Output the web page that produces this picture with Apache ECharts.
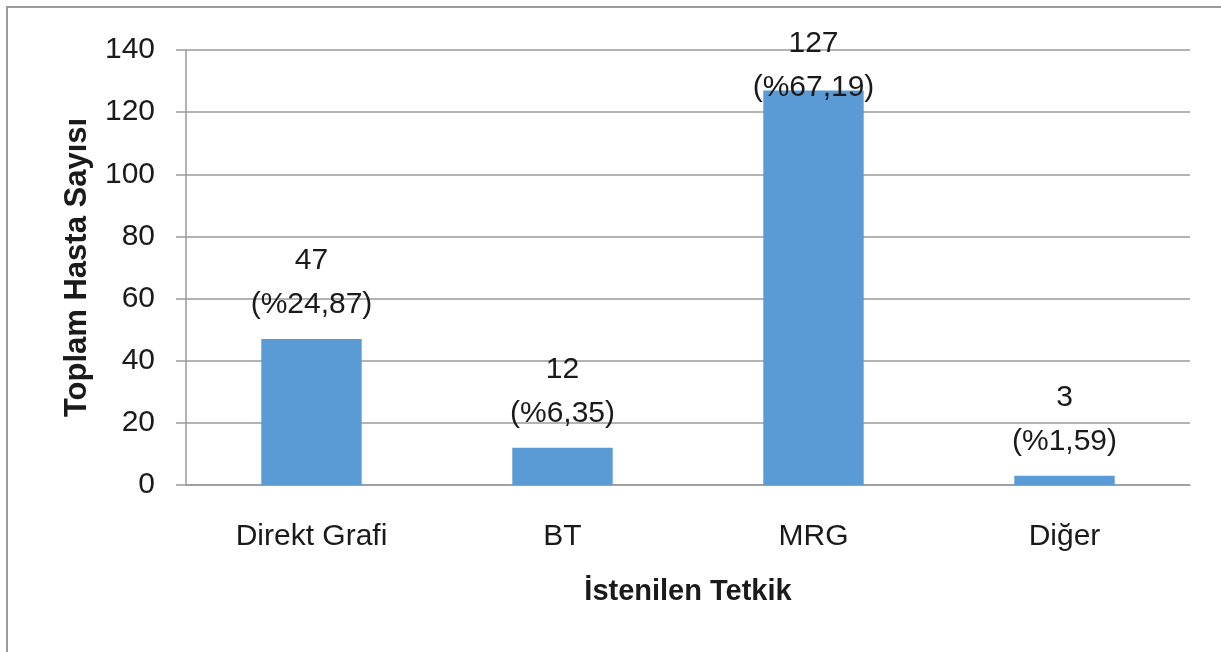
<!DOCTYPE html>
<html>
<head>
<meta charset="utf-8">
<script src="https://cdn.jsdelivr.net/npm/echarts@6/dist/echarts.min.js"></script>
<style>
html,body{margin:0;padding:0;background:#fff;}
#c{width:1221px;height:652px;}
</style>
</head>
<body>
<div id="c"></div>
<script>
const categories = ['Direkt Grafi', 'BT', 'MRG', 'Diğer'];
const counts = [47, 12, 127, 3];
const percents = ['24,87', '6,35', '67,19', '1,59'];
const yTicks = [0, 20, 40, 60, 80, 100, 120, 140];
const yAxisTitle = 'Toplam Hasta Sayısı';
const xAxisTitle = 'İstenilen Tetkik';

const FONT = "'Liberation Sans', Arial, sans-serif";
const TXT = '#1a1a1a';

const chart = echarts.init(document.getElementById('c'), null, {renderer: 'canvas'});

const seriesData = counts.map((v, i) => {
  const item = { value: v };
  if (v === Math.max(...counts)) {
    item.label = { offset: [0, 31] };
  }
  return item;
});

chart.setOption({
  animation: false,
  backgroundColor: '#ffffff',
  graphic: [{
    type: 'rect',
    shape: { x: 7, y: 7, width: 1240, height: 700 },
    style: { fill: 'none', stroke: '#9a9a9a', lineWidth: 2 },
    silent: true
  }],
  grid: { left: 186, right: 31, top: 50, bottom: 167, containLabel: false },
  xAxis: {
    type: 'category',
    data: categories,
    name: xAxisTitle,
    nameLocation: 'middle',
    nameGap: 92,
    nameTextStyle: { fontFamily: FONT, fontSize: 29, fontWeight: 'bold', color: TXT },
    axisLine: { lineStyle: { color: '#9a9a9a', width: 1.5 } },
    axisTick: { show: false },
    axisLabel: { fontFamily: FONT, fontSize: 30, color: TXT, margin: 37 }
  },
  yAxis: {
    type: 'value',
    min: yTicks[0],
    max: yTicks[yTicks.length - 1],
    interval: yTicks[1] - yTicks[0],
    name: yAxisTitle,
    nameLocation: 'middle',
    nameRotate: 90,
    nameGap: 93,
    nameTextStyle: { fontFamily: FONT, fontSize: 31, fontWeight: 'bold', color: TXT },
    axisLine: { show: true, lineStyle: { color: '#9a9a9a', width: 1.5 } },
    axisTick: { show: true, length: 10, lineStyle: { color: '#9a9a9a', width: 1.5 } },
    axisLabel: { fontFamily: FONT, fontSize: 30, color: TXT, margin: 31 },
    splitLine: { show: true, lineStyle: { color: '#9a9a9a', width: 1.5 } }
  },
  series: [{
    type: 'bar',
    data: seriesData,
    barWidth: '40%',
    itemStyle: { color: '#5b9bd5' },
    label: {
      show: true,
      position: 'top',
      distance: 12,
      fontFamily: FONT,
      fontSize: 30,
      lineHeight: 44,
      color: TXT,
      align: 'center',
      formatter: p => counts[p.dataIndex] + '\n(%' + percents[p.dataIndex] + ')'
    }
  }]
});
</script>
</body>
</html>
